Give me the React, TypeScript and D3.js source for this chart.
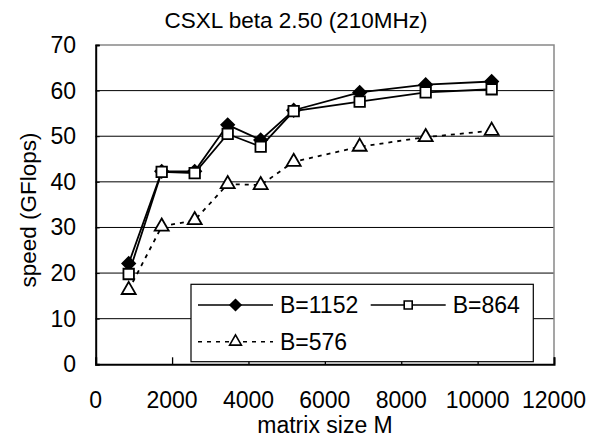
import React, { useEffect, useRef } from "react";
import * as d3 from "d3";

const sizes = [864, 1728, 2592, 3456, 4320, 5184, 6912, 8640, 10368];
const b1152 = [22.1, 42.3, 42.3, 52.5, 49.2, 55.7, 59.6, 61.3, 62.0];
const b864 = [19.8, 42.2, 41.9, 50.5, 47.7, 55.5, 57.6, 59.6, 60.3];
const b576 = [16.3, 30.2, 31.6, 39.5, 39.3, 44.4, 47.7, 49.8, 51.2];
const xTicks = [0, 2000, 4000, 6000, 8000, 10000, 12000];
const yTicks = [0, 10, 20, 30, 40, 50, 60, 70];

const W = 598, H = 439;
const font = "'Liberation Sans', Arial, sans-serif";

export default function App() {
  const ref = useRef<SVGSVGElement>(null);

  useEffect(() => {
    const svg = d3.select(ref.current);
    svg.selectAll("*").remove();

    const x = d3.scaleLinear().domain([0, 12000]).range([95.7, 554]);
    const y = d3.scaleLinear().domain([0, 70]).range([364.3, 45]);

    // gridlines
    svg.append("g").selectAll("line")
      .data(yTicks.filter(d => d > 0 && d < 70))
      .enter().append("line")
      .attr("x1", x(0)).attr("x2", x(12000))
      .attr("y1", d => y(d)).attr("y2", d => y(d))
      .attr("stroke", "#000").attr("stroke-width", 1);

    // frame: grey top/right
    svg.append("path")
      .attr("d", `M${x(0)},${y(70)}H${x(12000)}V${y(0)}`)
      .attr("fill", "none").attr("stroke", "#888").attr("stroke-width", 1.5);

    // x axis with inward ticks
    const xAxis = svg.append("g")
      .attr("transform", `translate(0,${y(0)})`)
      .call(d3.axisBottom(x).tickValues(xTicks).tickSize(-7).tickPadding(0).tickFormat(d3.format("d")));
    xAxis.select(".domain").attr("stroke", "#000").attr("stroke-width", 2);
    xAxis.selectAll(".tick line").attr("stroke", "#000").attr("stroke-width", 1.3);
    xAxis.selectAll(".tick text").remove();
    svg.append("g").selectAll("text")
      .data(xTicks).enter().append("text")
      .attr("x", d => x(d)).attr("y", 408)
      .attr("text-anchor", "middle")
      .style("font-family", font).style("font-size", "23px")
      .text(d => String(d));

    // y axis
    const yAxis = svg.append("g")
      .attr("transform", `translate(${x(0)},0)`)
      .call(d3.axisLeft(y).tickValues(yTicks).tickSize(-4).tickFormat(d3.format("d")));
    yAxis.select(".domain").attr("stroke", "#000").attr("stroke-width", 2);
    yAxis.selectAll(".tick line").attr("stroke", "#000");
    yAxis.selectAll(".tick text").remove();
    svg.append("g").selectAll("text")
      .data(yTicks).enter().append("text")
      .attr("x", 76).attr("y", d => y(d) + 8)
      .attr("text-anchor", "end")
      .style("font-family", font).style("font-size", "23px")
      .text(d => String(d));

    // titles
    svg.append("text").attr("x", 296).attr("y", 28)
      .attr("text-anchor", "middle")
      .style("font-family", font).style("font-size", "22.5px")
      .text("CSXL beta 2.50 (210MHz)");
    svg.append("text").attr("x", 325).attr("y", 433)
      .attr("text-anchor", "middle")
      .style("font-family", font).style("font-size", "23px")
      .text("matrix size M");
    svg.append("text")
      .attr("transform", `translate(36,210) rotate(-90)`)
      .attr("text-anchor", "middle")
      .style("font-family", font).style("font-size", "22.5px")
      .text("speed (GFlops)");

    const line = d3.line<number>().x((d, i) => x(sizes[i])).y(d => y(d));

    const diamond = d3.symbol().type(d3.symbolSquare).size(82);
    const square = d3.symbol().type(d3.symbolSquare).size(110);
    const tri = d3.symbol().type(d3.symbolTriangle).size(85);

    const series = [
      { vals: b576, sym: tri, fill: "#fff", dash: "4,5", rot: 0 },
      { vals: b1152, sym: diamond, fill: "#000", dash: null, rot: 45 },
      { vals: b864, sym: square, fill: "#fff", dash: null, rot: 0 },
    ];

    series.forEach(s => {
      svg.append("path").datum(s.vals)
        .attr("d", line)
        .attr("fill", "none").attr("stroke", "#000")
        .attr("stroke-width", s.dash ? 1.8 : 1.8)
        .attr("stroke-dasharray", s.dash);
      svg.append("g").selectAll("path")
        .data(s.vals).enter().append("path")
        .attr("d", s.sym as any)
        .attr("transform", (d, i) => `translate(${x(sizes[i])},${y(d)}) rotate(${s.rot})`)
        .attr("fill", s.fill).attr("stroke", "#000").attr("stroke-width", 1.8);
    });

    // legend
    const lg = svg.append("g");
    lg.append("rect").attr("x", 191).attr("y", 284.3).attr("width", 342.3).attr("height", 77.4)
      .attr("fill", "#fff").attr("stroke", "#000").attr("stroke-width", 1.2);
    const items = [
      { label: "B=1152", x0: 198, yy: 305, sym: d3.symbol().type(d3.symbolSquare).size(60), fill: "#000", dash: null, rot: 45 },
      { label: "B=864", x0: 370.7, yy: 305, sym: d3.symbol().type(d3.symbolSquare).size(64), fill: "#fff", dash: null, rot: 0 },
      { label: "B=576", x0: 198, yy: 341.7, sym: d3.symbol().type(d3.symbolTriangle).size(60), fill: "#fff", dash: "4,5", rot: 0 },
    ];
    items.forEach(it => {
      lg.append("line").attr("x1", it.x0).attr("x2", it.x0 + 75)
        .attr("y1", it.yy).attr("y2", it.yy)
        .attr("stroke", "#000").attr("stroke-width", 1.6)
        .attr("stroke-dasharray", it.dash);
      lg.append("path").attr("d", it.sym as any)
        .attr("transform", `translate(${it.x0 + 37.5},${it.yy}) rotate(${it.rot})`)
        .attr("fill", it.fill).attr("stroke", "#000").attr("stroke-width", 1.6);
      lg.append("text").attr("x", it.x0 + 82).attr("y", it.yy + 8)
        .style("font-family", font).style("font-size", "23px")
        .text(it.label);
    });
  }, []);

  return (
    <svg ref={ref} width={W} height={H}
      style={{ position: "absolute", left: 0, top: 0, background: "#fff" }} />
  );
}
